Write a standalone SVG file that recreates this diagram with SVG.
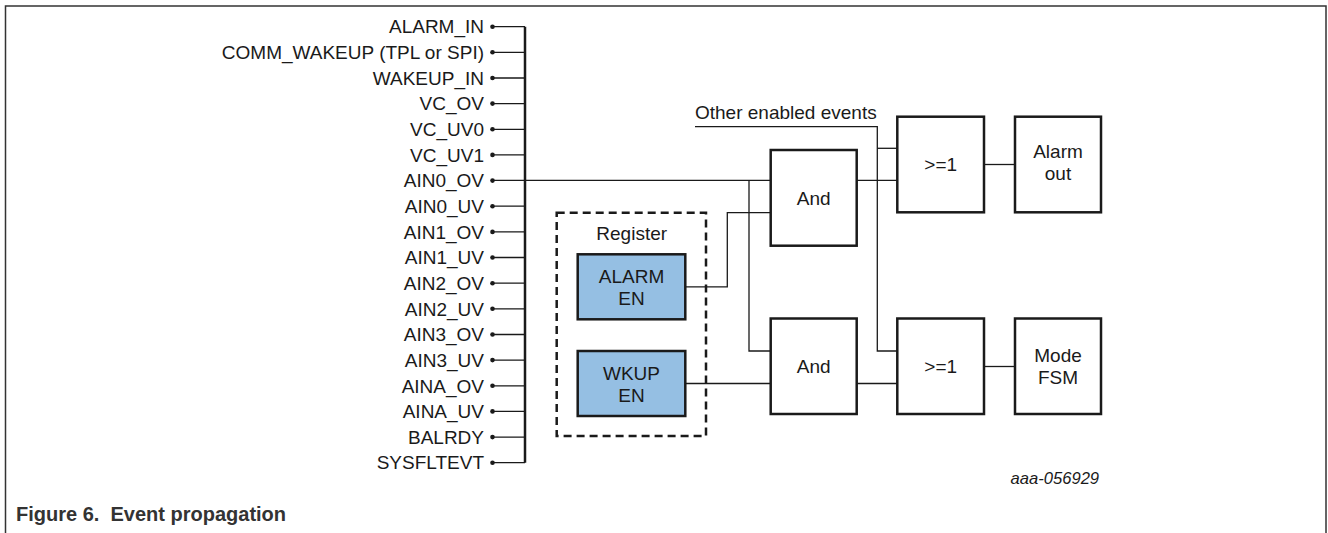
<svg xmlns="http://www.w3.org/2000/svg" width="1328" height="533" viewBox="0 0 1328 533">
<style>
text{font-family:"Liberation Sans",Arial,sans-serif;font-size:19px;fill:#1a1a1a}
.lbl{text-anchor:end}
.c{text-anchor:middle}
.box{fill:#fff;stroke:#1a1a1a;stroke-width:2.5}
.reg{fill:#95bfe3;stroke:#1a1a1a;stroke-width:2.5}
.w{fill:none;stroke:#1a1a1a;stroke-width:1.3}
.dot{fill:#1a1a1a}
</style>
<rect width="1328" height="533" fill="#fff"/>
<path d="M5.5,533 V6 H1326 V533" fill="none" stroke="#333" stroke-width="1.5"/>

<g id="inputs">
<g class="lbl">
<text x="484" y="33.4">ALARM_IN</text>
<text x="484" y="59.0">COMM_WAKEUP (TPL or SPI)</text>
<text x="484" y="84.7">WAKEUP_IN</text>
<text x="484" y="110.3">VC_OV</text>
<text x="484" y="136.0">VC_UV0</text>
<text x="484" y="161.6">VC_UV1</text>
<text x="484" y="187.3">AIN0_OV</text>
<text x="484" y="212.9">AIN0_UV</text>
<text x="484" y="238.6">AIN1_OV</text>
<text x="484" y="264.2">AIN1_UV</text>
<text x="484" y="289.9">AIN2_OV</text>
<text x="484" y="315.5">AIN2_UV</text>
<text x="484" y="341.2">AIN3_OV</text>
<text x="484" y="366.8">AIN3_UV</text>
<text x="484" y="392.5">AINA_OV</text>
<text x="484" y="418.1">AINA_UV</text>
<text x="484" y="443.8">BALRDY</text>
<text x="484" y="469.4">SYSFLTEVT</text>
</g>
<g class="dot">
<circle cx="492.5" cy="26.7" r="2.3"/><circle cx="492.5" cy="52.3" r="2.3"/><circle cx="492.5" cy="78.0" r="2.3"/><circle cx="492.5" cy="103.6" r="2.3"/><circle cx="492.5" cy="129.3" r="2.3"/><circle cx="492.5" cy="154.9" r="2.3"/><circle cx="492.5" cy="180.6" r="2.3"/><circle cx="492.5" cy="206.2" r="2.3"/><circle cx="492.5" cy="231.9" r="2.3"/><circle cx="492.5" cy="257.5" r="2.3"/><circle cx="492.5" cy="283.2" r="2.3"/><circle cx="492.5" cy="308.8" r="2.3"/><circle cx="492.5" cy="334.5" r="2.3"/><circle cx="492.5" cy="360.1" r="2.3"/><circle cx="492.5" cy="385.8" r="2.3"/><circle cx="492.5" cy="411.4" r="2.3"/><circle cx="492.5" cy="437.1" r="2.3"/><circle cx="492.5" cy="462.7" r="2.3"/>
</g>
</g>

<g id="connectors">
<path class="w" d="M492.5,26.7H525M492.5,52.3H525M492.5,78H525M492.5,103.6H525M492.5,129.3H525M492.5,154.9H525M492.5,206.2H525M492.5,231.9H525M492.5,257.5H525M492.5,283.2H525M492.5,308.8H525M492.5,334.5H525M492.5,360.1H525M492.5,385.8H525M492.5,411.4H525M492.5,437.1H525M492.5,462.7H525"/>
<path d="M525,26.7V462.7" fill="none" stroke="#1a1a1a" stroke-width="2.5"/>
<path class="w" d="M492.5,180.3H770.7"/>
<path class="w" d="M749,180.3V351H770.7"/>
<path class="w" d="M685.3,286.8H727.3V212.7H770.7"/>
<path class="w" d="M685.3,383.5H770.7"/>
<path class="w" d="M856.7,180.3H897.3"/>
<path class="w" d="M856.7,383.5H897.3"/>
<path class="w" d="M695,126.7H877.3V351H897.3"/>
<path class="w" d="M877.3,148.3H897.3"/>
<path class="w" d="M984,164.5H1015"/>
<path class="w" d="M984,366.5H1015"/>
</g>

<g id="other-events"><text x="695" y="119">Other enabled events</text></g>

<g id="register">
<rect x="556.7" y="212.7" width="149.3" height="223.3" fill="none" stroke="#1a1a1a" stroke-width="2.5" stroke-dasharray="8 5"/>
<text class="c" x="631.7" y="240">Register</text>
</g>
<g id="alarm-en">
<rect class="reg" x="577.7" y="254.3" width="107.6" height="65"/>
<text class="c" x="631.5" y="283.3">ALARM</text>
<text class="c" x="631.5" y="304.8">EN</text>
</g>
<g id="wkup-en">
<rect class="reg" x="577.7" y="351" width="107.6" height="65"/>
<text class="c" x="631.5" y="380">WKUP</text>
<text class="c" x="631.5" y="401.5">EN</text>
</g>

<g id="and-alarm">
<rect class="box" x="770.7" y="150" width="86" height="95.7"/>
<text class="c" x="813.7" y="204.5">And</text>
</g>
<g id="and-wkup">
<rect class="box" x="770.7" y="318.5" width="86" height="95.5"/>
<text class="c" x="813.7" y="373">And</text>
</g>
<g id="or-alarm">
<rect class="box" x="897.3" y="116.7" width="86.7" height="95.6"/>
<text class="c" x="940.7" y="171">&gt;=1</text>
</g>
<g id="or-mode">
<rect class="box" x="897.3" y="318.5" width="86.7" height="95.5"/>
<text class="c" x="940.7" y="373">&gt;=1</text>
</g>
<g id="alarm-out">
<rect class="box" x="1015" y="116.7" width="86" height="95.6"/>
<text class="c" x="1058" y="158">Alarm</text>
<text class="c" x="1058" y="180">out</text>
</g>
<g id="mode-fsm">
<rect class="box" x="1015" y="318.5" width="86" height="95.5"/>
<text class="c" x="1058" y="361.5">Mode</text>
<text class="c" x="1058" y="383.5">FSM</text>
</g>

<text x="1010.5" y="484" style="font-size:16.6px;font-style:italic">aaa-056929</text>
<text x="16" y="521" xml:space="preserve" style="font-size:20px;font-weight:bold;fill:#333">Figure 6.  Event propagation</text>
</svg>
